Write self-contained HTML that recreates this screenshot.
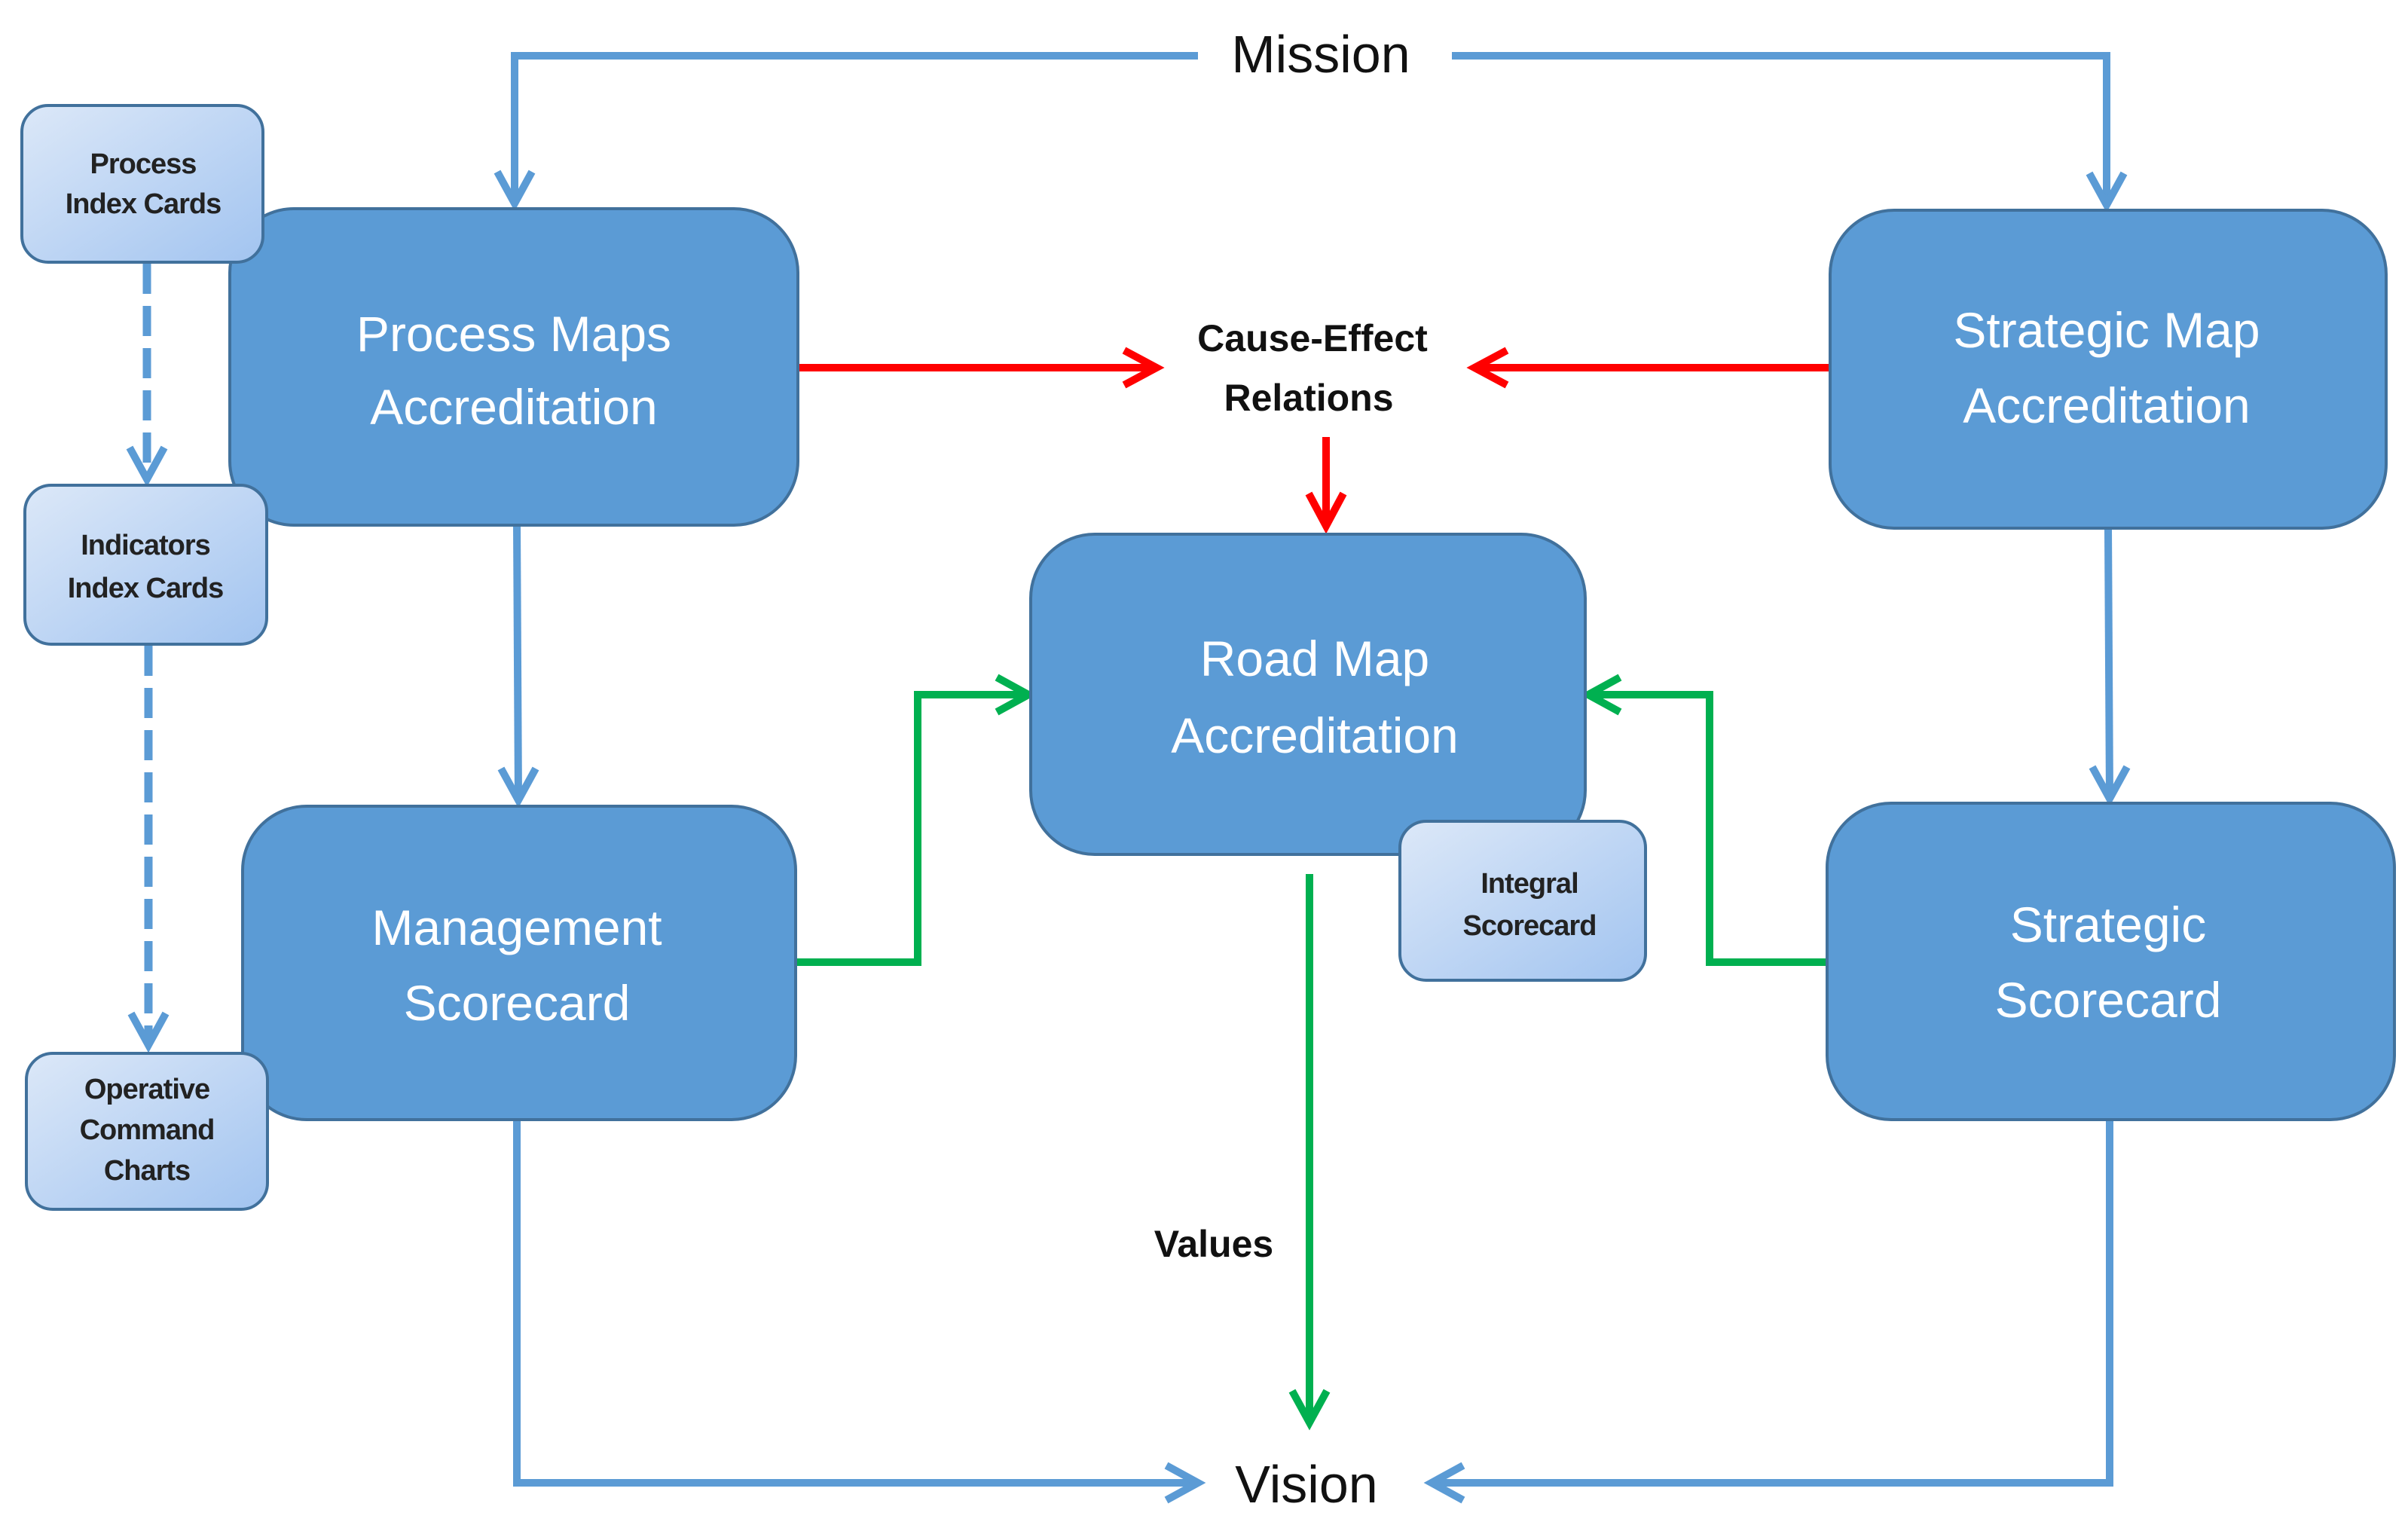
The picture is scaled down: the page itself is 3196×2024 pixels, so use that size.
<!DOCTYPE html>
<html><head><meta charset="utf-8"><style>
html,body{margin:0;padding:0;background:#fff;}
svg{display:block;}
.big{font-family:"Liberation Sans",sans-serif;font-size:66px;fill:#fff;text-anchor:middle;}
.sm{font-family:"Liberation Sans",sans-serif;font-size:38px;font-weight:bold;fill:#222;text-anchor:middle;letter-spacing:-1px;}
.lbl{font-family:"Liberation Sans",sans-serif;font-size:50px;font-weight:bold;fill:#111;text-anchor:middle;}
.mv{font-family:"Liberation Sans",sans-serif;font-size:70px;fill:#111;text-anchor:middle;}
</style></head><body>
<svg width="3196" height="2024" viewBox="0 0 3196 2024" xmlns="http://www.w3.org/2000/svg">
<defs>
<linearGradient id="g" x1="0" y1="0" x2="1" y2="1">
<stop offset="0" stop-color="#dce8f8"/><stop offset="1" stop-color="#a2c4f0"/>
</linearGradient>
</defs>
<g fill="none" stroke-linejoin="miter" stroke-linecap="butt">
<!-- Mission lines -->
<polyline points="1590,74 683,74 683,270" stroke="#5b9bd5" stroke-width="10"/>
<polyline points="660,228 683,270 706,228" stroke="#5b9bd5" stroke-width="10"/>
<polyline points="1927,74 2796,74 2796,272" stroke="#5b9bd5" stroke-width="10"/>
<polyline points="2773,230 2796,272 2819,230" stroke="#5b9bd5" stroke-width="10"/>
<!-- vertical blue -->
<line x1="686" y1="697" x2="688" y2="1062" stroke="#5b9bd5" stroke-width="10"/>
<polyline points="665,1020 688,1062 711,1020" stroke="#5b9bd5" stroke-width="10"/>
<line x1="2798" y1="701" x2="2800" y2="1060" stroke="#5b9bd5" stroke-width="10"/>
<polyline points="2777,1018 2800,1060 2823,1018" stroke="#5b9bd5" stroke-width="10"/>
<!-- Vision lines -->
<polyline points="686,1486 686,1968 1590,1968" stroke="#5b9bd5" stroke-width="10"/>
<polyline points="1548,1945 1590,1968 1548,1991" stroke="#5b9bd5" stroke-width="10"/>
<polyline points="2800,1486 2800,1968 1900,1968" stroke="#5b9bd5" stroke-width="10"/>
<polyline points="1942,1945 1900,1968 1942,1991" stroke="#5b9bd5" stroke-width="10"/>
<!-- dashed -->
<line x1="195" y1="350" x2="195" y2="630" stroke="#5b9bd5" stroke-width="11" stroke-dasharray="40,16"/>
<polyline points="172,594 195,636 218,594" stroke="#5b9bd5" stroke-width="10"/>
<line x1="197" y1="857" x2="197" y2="1380" stroke="#5b9bd5" stroke-width="11" stroke-dasharray="40,16"/>
<polyline points="174,1345 197,1387 220,1345" stroke="#5b9bd5" stroke-width="10"/>
<!-- red -->
<line x1="1059" y1="488" x2="1535" y2="488" stroke="#ff0000" stroke-width="10"/>
<polyline points="1492,465 1535,488 1492,511" stroke="#ff0000" stroke-width="10"/>
<line x1="2429" y1="488" x2="1957" y2="488" stroke="#ff0000" stroke-width="10"/>
<polyline points="2000,465 1957,488 2000,511" stroke="#ff0000" stroke-width="10"/>
<line x1="1760" y1="580" x2="1760" y2="698" stroke="#ff0000" stroke-width="10"/>
<polyline points="1737,655 1760,698 1783,655" stroke="#ff0000" stroke-width="10"/>
<!-- green -->
<polyline points="1056,1277 1218,1277 1218,922 1365,922" stroke="#00b050" stroke-width="10"/>
<polyline points="1323,899 1365,922 1323,945" stroke="#00b050" stroke-width="10"/>
<polyline points="2425,1277 2269,1277 2269,922 2108,922" stroke="#00b050" stroke-width="10"/>
<polyline points="2150,899 2108,922 2150,945" stroke="#00b050" stroke-width="10"/>
<line x1="1738" y1="1160" x2="1738" y2="1888" stroke="#00b050" stroke-width="10"/>
<polyline points="1715,1846 1738,1888 1761,1846" stroke="#00b050" stroke-width="10"/>
</g>
<!-- big boxes -->
<g fill="#5b9bd5" stroke="#41719c" stroke-width="4">
<rect x="305" y="277" width="754" height="420" rx="85"/>
<rect x="2429" y="279" width="738" height="422" rx="85"/>
<rect x="1368" y="709" width="736" height="425" rx="85"/>
<rect x="322" y="1070" width="734" height="416" rx="85"/>
<rect x="2425" y="1066" width="753" height="420" rx="85"/>
</g>
<!-- small cards -->
<g fill="url(#g)" stroke="#41719c" stroke-width="4">
<rect x="29" y="140" width="320" height="208" rx="35"/>
<rect x="33" y="644" width="321" height="211" rx="35"/>
<rect x="35" y="1398" width="320" height="207" rx="35"/>
<rect x="1858" y="1090" width="326" height="211" rx="35"/>
</g>
<text class="big" x="682" y="466">Process Maps</text>
<text class="big" x="682" y="563">Accreditation</text>
<text class="big" x="2796" y="461">Strategic Map</text>
<text class="big" x="2796" y="561">Accreditation</text>
<text class="big" x="1745" y="897">Road Map</text>
<text class="big" x="1745" y="999">Accreditation</text>
<text class="big" x="686" y="1254">Management</text>
<text class="big" x="686" y="1354">Scorecard</text>
<text class="big" x="2798" y="1250">Strategic</text>
<text class="big" x="2798" y="1350">Scorecard</text>
<text class="sm" x="190" y="230">Process</text>
<text class="sm" x="190" y="283">Index Cards</text>
<text class="sm" x="193" y="736">Indicators</text>
<text class="sm" x="193" y="793">Index Cards</text>
<text class="sm" x="195" y="1458">Operative</text>
<text class="sm" x="195" y="1512">Command</text>
<text class="sm" x="195" y="1566">Charts</text>
<text class="sm" x="2030" y="1185">Integral</text>
<text class="sm" x="2030" y="1241">Scorecard</text>
<text class="lbl" x="1742" y="466">Cause-Effect</text>
<text class="lbl" x="1737" y="545">Relations</text>
<text class="lbl" x="1611" y="1668">Values</text>
<text class="mv" x="1753" y="96">Mission</text>
<text class="mv" x="1734" y="1994">Vision</text>
</svg>
</body></html>
